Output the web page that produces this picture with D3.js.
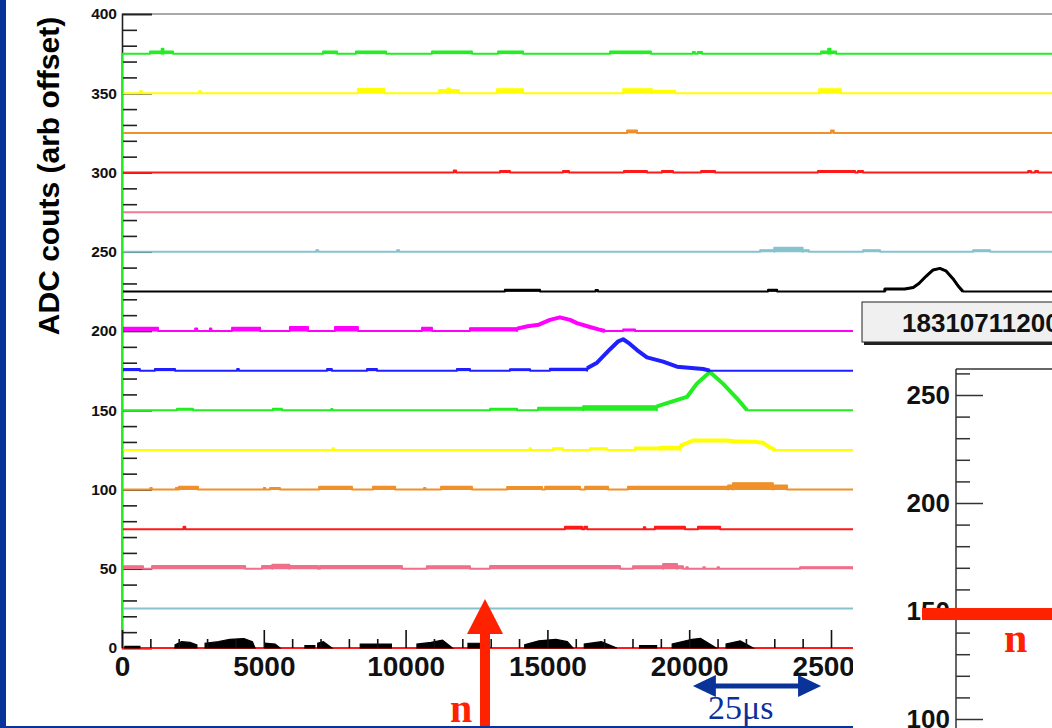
<!DOCTYPE html>
<html>
<head>
<meta charset="utf-8">
<script src="https://cdn.jsdelivr.net/npm/d3@7"></script>
<style>
  body { margin: 0; background: #fff; }
  svg { display: block; font-family: "Liberation Sans", Arial, Helvetica, sans-serif; }
</style>
</head>
<body>
<svg id="chart" width="1052" height="728"></svg>
<script>
// channel baselines (arb offset) and colours, top to bottom
const channelOffsets = [375, 350, 325, 300, 275, 250, 225, 200, 175, 150, 125, 100, 75, 50, 25];
const channelColors = ["#22ee22", "#ffff00", "#f0902a", "#ff1a1a", "#f07a94", "#86c3cf", "#000000",
  "#ff00ff", "#1f1fff", "#22ee22", "#ffff00", "#f0902a", "#ff1a1a", "#f06f8a", "#86c3cf"];

const channelPulses = [
  [[990, 1400, 1.3], [1400, 1460, 3], [1460, 1800, 1.3], [7090, 7580, 1.3], [8250, 9310, 1.3], [10930, 12340, 1.3],
   [13260, 14140, 1.3], [17210, 18650, 1.3], [20130, 20200, 1], [20300, 20450, 1], [24650, 24900, 1.3], [24900, 24980, 3], [24980, 25180, 1.3]],
  [[640, 700, 1.3], [2720, 2780, 1.3], [8320, 9240, 2.7], [11180, 11480, 2], [11480, 11560, 3], [11560, 11880, 2],
   [13220, 14140, 2.5], [17670, 18690, 2.5], [18690, 19500, 1.5], [24580, 25350, 2.5]],
  [[17810, 18160, 1.5], [25000, 25100, 1.5]],
  [[11700, 11780, 1.2], [13330, 13680, 1], [15550, 15760, 1], [17700, 18510, 1], [19040, 19430, 1], [20420, 20910, 1],
   [24540, 25850, 1], [25950, 26130, 1], [31950, 32050, 1], [32200, 32300, 1]],
  [],
  [[6850, 6920, 1], [9700, 9770, 1], [22500, 23000, 1], [23000, 24000, 2.5], [24000, 24220, 1], [26130, 26730, 1], [30010, 30610, 1]],
  [[13500, 14740, 1], [16700, 16780, 0.8], [22780, 23100, 1],
   [[26900, 0], [26900, 1.5], [27600, 1.5], [27900, 2.5], [28100, 5], [28350, 9.5], [28600, 13.5], [28840, 14.5],
    [29050, 13], [29300, 8], [29500, 3], [29650, 0]]],
  [[30, 1270, 2], [2580, 2650, 1.5], [3100, 3150, 1.5], [3880, 4870, 2], [5920, 6560, 2.5], [7510, 8320, 2.5],
   [10580, 10930, 2], [12270, 13930, 1.8],
   [[13930, 1.5], [14300, 3], [14700, 4], [15090, 7], [15440, 8.6], [15800, 7], [16040, 5], [16500, 2.5], [16800, 1], [17030, 0]],
   [17670, 18090, 1]],
  [[30, 630, 1], [1160, 1870, 1], [4060, 4120, 1], [7230, 7400, 1], [8640, 8990, 1], [11810, 12270, 1],
   [13680, 14390, 0.8], [15090, 16400, 1.2],
   [[16400, 1.5], [16750, 5], [17210, 13.5], [17500, 18.5], [17670, 19.8], [17900, 17], [18160, 13], [18510, 8.4],
    [19080, 5.7], [19570, 2.5], [20490, 1], [20730, 0]]],
  [[1940, 2500, 1], [5320, 5640, 1], [7380, 7420, 0.8], [12980, 13930, 1], [14670, 16260, 1.5], [16260, 18860, 2.5],
   [[18860, 2.5], [19300, 5], [19920, 8.4], [20270, 16.8], [20730, 24.2], [21190, 16.8], [21690, 7.4], [22040, 0]]],
  [[7420, 7470, 1], [14370, 14420, 1], [15200, 15550, 1], [16500, 17100, 1], [18090, 18970, 1.5], [18970, 19680, 2],
   [[19680, 2.5], [19900, 4.2], [20130, 5.9], [21330, 5.9], [21600, 5.5], [22250, 5.2], [22600, 4.5], [22800, 2], [23030, 0]]],
  [[1000, 1050, 1], [1900, 1950, 1], [2010, 2680, 1.7], [5000, 5050, 1], [5220, 5570, 1], [6950, 8110, 1.7],
   [8850, 9630, 1.7], [10650, 10700, 1], [11250, 12340, 1.7], [13580, 14810, 1.5], [14920, 16150, 1.7],
   [16330, 17140, 1.7], [17840, 21370, 1.7], [21370, 21540, 2.5], [21540, 22950, 4], [22950, 23450, 2.5]],
  [[2170, 2230, 1.5], [15620, 16220, 1.5], [16300, 16400, 1.5], [18400, 18450, 1.2], [18790, 19850, 1.5], [20310, 21090, 1.5]],
  [[40, 740, 1.5], [1060, 4340, 1.7], [4940, 5300, 1.7], [5300, 5900, 2.5], [5900, 6910, 1.7], [6980, 9870, 1.7],
   [10750, 12270, 1.5], [12980, 17560, 1.7], [18020, 19080, 1.5], [19080, 19570, 3], [19570, 19780, 1.5],
   [19900, 19950, 1], [20500, 20550, 1], [21000, 21050, 1], [23910, 25780, 1]],
  []
];

// bottom channel (offset 0), drawn filled
const baseHumps = [
  [[100, 0], [100, 1], [630, 1], [630, 0]],
  [[1870, 0], [1870, 2], [2100, 4], [2400, 3.5], [2640, 2], [2640, 0]],
  [[2930, 0], [2930, 3], [3400, 4], [3800, 5.5], [4300, 6], [4600, 4], [4690, 0]],
  [[5040, 0], [5040, 3], [5400, 2.5], [5570, 0]],
  [[6450, 0], [6450, 1.5], [6800, 1.5], [6800, 0]],
  [[6900, 0], [6900, 3], [7100, 4], [7400, 0]],
  [[8400, 0], [8400, 2.5], [9500, 2.5], [9500, 0]],
  [[10400, 0], [10400, 2.5], [10900, 3.5], [11300, 5], [11650, 0]],
  [[12200, 0], [12200, 3], [12800, 3], [12800, 0]],
  [[14200, 0], [14200, 2], [14700, 4.5], [15300, 5.5], [15700, 4], [15900, 0]],
  [[16300, 0], [16300, 2.5], [16900, 4], [17450, 0]],
  [[18250, 0], [18250, 1.5], [18850, 1.5], [18850, 0]],
  [[19400, 0], [19400, 2.5], [20100, 5.5], [20400, 6], [20950, 0]],
  [[21300, 0], [21300, 2.5], [21800, 4.5], [22250, 0]]
];

const yLabelTicks = [0, 50, 100, 150, 200, 250, 300, 350, 400];
const xLabelTicks = [0, 5000, 10000, 15000, 20000, 25000];
const insetLabelTicks = [100, 150, 200, 250];
const runLabel = "183107112007";
const xMax = 34000;

const svg = d3.select("#chart");
const x = d3.scaleLinear().domain([0, 25000]).range([122, 831]);
const y = d3.scaleLinear().domain([0, 400]).range([648, 14]);

// frame and axes
svg.append("line").attr("x1", 122).attr("x2", 1052).attr("y1", y(400)).attr("y2", y(400))
  .attr("stroke", "#555").attr("stroke-width", 1.2);

const minorY = d3.range(0, 400, 10).filter(v => v % 50 !== 0);
svg.append("g")
  .attr("transform", `translate(${x(0)},0)`)
  .call(d3.axisLeft(y).tickValues(minorY).tickSize(-15).tickFormat(""))
  .call(g => g.select(".domain").remove())
  .call(g => g.selectAll("line").attr("stroke", "#222").attr("stroke-width", 1.6));

svg.append("g")
  .attr("transform", `translate(${x(0)},0)`)
  .call(d3.axisLeft(y).tickValues(yLabelTicks).tickSize(-30).tickPadding(5))
  .call(g => g.select(".domain").attr("stroke", "#222").attr("stroke-width", 1.6))
  .call(g => g.selectAll("line").attr("stroke", "#222").attr("stroke-width", 1.6))
  .call(g => g.selectAll("text").attr("font-size", 15.5).attr("font-weight", "bold").attr("fill", "#111"));

svg.append("text")
  .attr("transform", `translate(48,176) rotate(-90)`)
  .attr("text-anchor", "middle")
  .attr("dominant-baseline", "central")
  .attr("font-size", 30)
  .attr("font-weight", "bold")
  .text("ADC couts (arb offset)");

// red zero line under the bottom channel
svg.append("line").attr("x1", x(0)).attr("x2", 1052).attr("y1", y(0)).attr("y2", y(0))
  .attr("stroke", "#ff1a1a").attr("stroke-width", 2);

const baseArea = d3.area().x(d => x(d[0])).y0(y(0)).y1(d => y(d[1]));
svg.append("g").selectAll("path")
  .data(baseHumps)
  .join("path")
  .attr("d", baseArea)
  .attr("fill", "#000")
  .attr("stroke", "#000")
  .attr("stroke-width", 1.2);

const isStep = it => typeof it[0] === "number";

function tracePoints(offset, items) {
  const pts = [[0, 0], [0, offset]];
  const start = it => (isStep(it) ? it[0] : it[0][0]);
  items.slice().sort((a, b) => start(a) - start(b)).forEach(it => {
    if (isStep(it)) {
      const [x0, x1, h] = it;
      pts.push([x0, offset], [x0, offset + h], [x1, offset + h], [x1, offset]);
    } else {
      it.forEach(([xx, h]) => pts.push([xx, offset + h]));
    }
  });
  pts.push([xMax, offset]);
  return pts;
}

const traceLine = d3.line().x(d => x(d[0])).y(d => y(d[1]));

// draw from the bottom channel up so the top one sits over the shared left edge
const traces = channelOffsets.map((o, i) => ({ offset: o, color: channelColors[i], items: channelPulses[i] })).reverse();

traces.forEach(tr => {
  const g = svg.append("g");
  g.append("path")
    .attr("d", traceLine(tracePoints(tr.offset, tr.items)))
    .attr("fill", "none")
    .attr("stroke", tr.color)
    .attr("stroke-width", 2)
    .attr("stroke-linejoin", "round");

  // noisy stretches show as solid bands
  g.selectAll("rect")
    .data(tr.items.filter(isStep))
    .join("rect")
    .attr("x", d => x(d[0]))
    .attr("width", d => Math.max(1, x(d[1]) - x(d[0])))
    .attr("y", d => y(tr.offset + d[2]) - 0.5)
    .attr("height", d => y(tr.offset) - y(tr.offset + d[2]) + 1)
    .attr("fill", tr.color);

  // pulse shapes are noisy too, so they read thicker
  g.selectAll("path.pulse")
    .data(tr.items.filter(it => !isStep(it)))
    .join("path")
    .attr("class", "pulse")
    .attr("d", d => traceLine(d.map(([xx, h]) => [xx, tr.offset + h])))
    .attr("fill", "none")
    .attr("stroke", tr.color)
    .attr("stroke-width", tr.offset === 225 ? 3 : 4)
    .attr("stroke-linejoin", "round");
});

// x axis ticks point up into the frame
const minorX = d3.range(0, xMax, 1000).filter(v => v % 5000 !== 0);
svg.append("g")
  .attr("transform", `translate(0,${y(0)})`)
  .call(d3.axisBottom(x).tickValues(minorX).tickSize(-9).tickFormat(""))
  .call(g => g.select(".domain").remove())
  .call(g => g.selectAll("line").attr("stroke", "#111").attr("stroke-width", 1.6));

svg.append("g")
  .attr("transform", `translate(0,${y(0)})`)
  .call(d3.axisBottom(x).tickValues(xLabelTicks).tickSize(-18).tickPadding(8).tickFormat(d3.format("d")))
  .call(g => g.select(".domain").remove())
  .call(g => g.selectAll("line").attr("stroke", "#111").attr("stroke-width", 1.6))
  .call(g => g.selectAll("text").attr("font-size", 28).attr("font-weight", "bold").attr("fill", "#111"));

// second canvas overlapping the lower right
svg.append("rect").attr("x", 853).attr("y", 296).attr("width", 199).attr("height", 432).attr("fill", "#fff");

svg.append("rect").attr("x", 864).attr("y", 304).attr("width", 200).attr("height", 41).attr("fill", "#222");
svg.append("rect").attr("x", 862).attr("y", 302).attr("width", 200).attr("height", 40)
  .attr("fill", "#f0f0f0").attr("stroke", "#222").attr("stroke-width", 1);
svg.append("text").attr("x", 902).attr("y", 332)
  .attr("font-size", 26).attr("font-weight", "bold").attr("fill", "#111")
  .text(runLabel);

const y2 = d3.scaleLinear().domain([100, 250]).range([719, 395]);
svg.append("line").attr("x1", 956).attr("x2", 1052).attr("y1", y2(262)).attr("y2", y2(262))
  .attr("stroke", "#333").attr("stroke-width", 1.5);

svg.append("g")
  .attr("transform", "translate(956,0)")
  .call(d3.axisLeft(y2).tickValues(d3.range(90, 270, 10).filter(v => v % 50 !== 0)).tickSize(-14).tickFormat(""))
  .call(g => g.select(".domain").remove())
  .call(g => g.selectAll("line").attr("stroke", "#333").attr("stroke-width", 1.5));

svg.append("g")
  .attr("transform", "translate(956,0)")
  .call(d3.axisLeft(y2).tickValues(insetLabelTicks).tickSize(-27).tickPadding(6))
  .call(g => g.select(".domain").remove())
  .call(g => g.selectAll("line").attr("stroke", "#333").attr("stroke-width", 1.5))
  .call(g => g.selectAll("text").attr("font-size", 26).attr("font-weight", "bold").attr("fill", "#111"));

svg.append("line").attr("x1", 956).attr("x2", 956).attr("y1", y2(262)).attr("y2", 728)
  .attr("stroke", "#333").attr("stroke-width", 1.5);

// annotations
const arrowRed = "#ff2200";
const serif = "'Liberation Serif', 'Times New Roman', serif";
svg.append("rect").attr("x", 922).attr("y", y2(148.6) - 6).attr("width", 130).attr("height", 12).attr("fill", arrowRed);
svg.append("text").attr("x", 1004).attr("y", 652)
  .attr("font-family", serif)
  .attr("font-size", 42).attr("font-weight", "bold").attr("fill", arrowRed).text("n");

const nx = x(12800);
svg.append("rect").attr("x", nx - 5).attr("y", 630).attr("width", 10).attr("height", 98).attr("fill", arrowRed);
svg.append("path")
  .attr("d", `M${nx - 18},634 L${nx + 18},634 L${nx},599 Z`)
  .attr("fill", arrowRed);
svg.append("text").attr("x", nx - 35).attr("y", 722)
  .attr("font-family", serif)
  .attr("font-size", 40).attr("font-weight", "bold").attr("fill", arrowRed).text("n");

const blue = "#0a3399";
const bx0 = x(20130), bx1 = x(24650), by = 686;
svg.append("rect").attr("x", bx0 + 18).attr("y", by - 2.5).attr("width", bx1 - bx0 - 36).attr("height", 5).attr("fill", blue);
svg.append("path").attr("d", `M${bx0},${by} L${bx0 + 23},${by - 11} L${bx0 + 23},${by + 11} Z`).attr("fill", blue);
svg.append("path").attr("d", `M${bx1},${by} L${bx1 - 23},${by - 11} L${bx1 - 23},${by + 11} Z`).attr("fill", blue);
svg.append("text").attr("x", 708).attr("y", 719)
  .attr("font-family", serif)
  .attr("font-size", 34).attr("fill", "#0d2f9b").text("25μs");

// slide border
svg.append("rect").attr("x", 0).attr("y", 0).attr("width", 6).attr("height", 728).attr("fill", blue);
svg.append("rect").attr("x", 0).attr("y", 726).attr("width", 853).attr("height", 2).attr("fill", blue);
</script>
</body>
</html>
